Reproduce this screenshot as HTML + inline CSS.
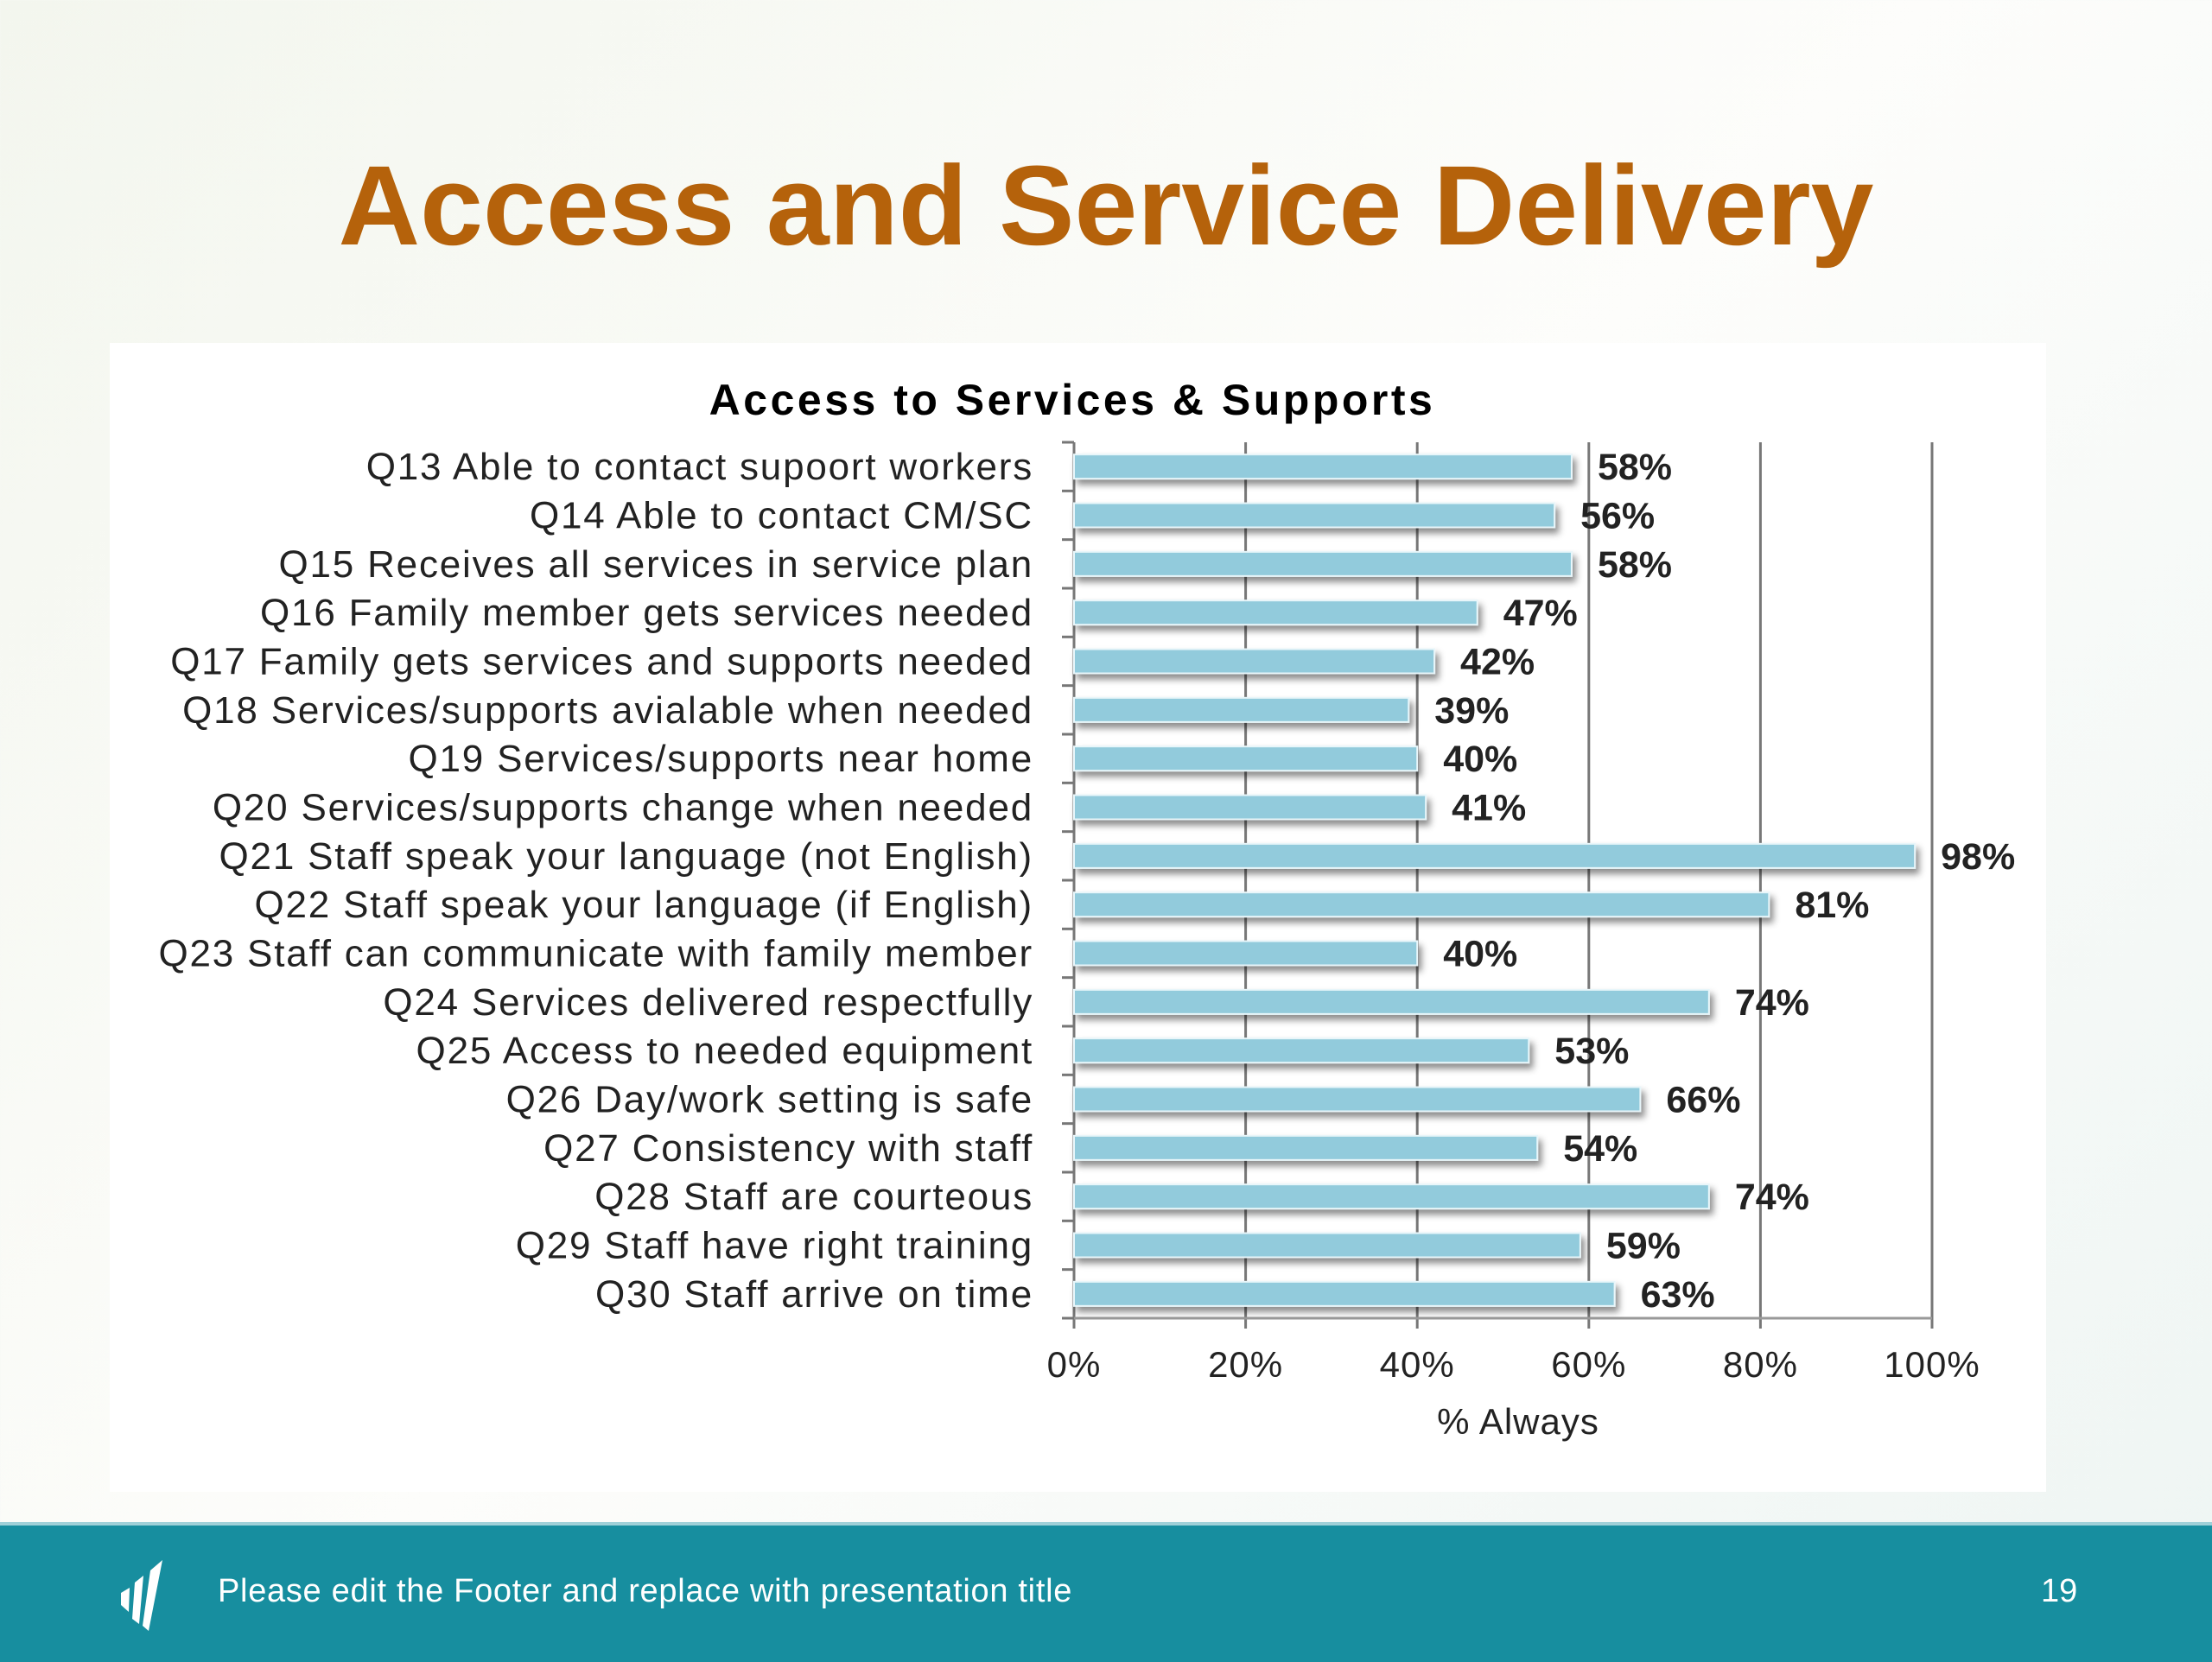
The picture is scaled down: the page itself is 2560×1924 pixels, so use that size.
<!DOCTYPE html>
<html><head><meta charset="utf-8"><style>
body{margin:0;width:2560px;height:1920px;overflow:hidden;background:linear-gradient(135deg,#f3f6ee 0%,#fdfdfb 50%,#eef5f3 100%);font-family:"Liberation Sans",sans-serif;position:relative}
#title{position:absolute;left:0;width:2560px;top:162px;text-align:center;font-size:131px;font-weight:bold;color:#B5620B;font-family:"Liberation Sans",sans-serif;letter-spacing:0px}
#panel{position:absolute;left:127px;top:397px;width:2241px;height:1330px;background:#fff}
#footer{position:absolute;left:0;top:1762px;width:2560px;height:158px;background:#178E9F;border-top:4px solid #9fd0d8}
</style></head><body>
<div id="title">Access and Service Delivery</div>
<div id="panel"></div>
<svg id="chart" width="2560" height="1920" style="position:absolute;left:0;top:0">
<defs><filter id="sh" x="-5%" y="-50%" width="110%" height="250%"><feDropShadow dx="4" dy="6" stdDeviation="4" flood-color="#000" flood-opacity="0.45"/></filter></defs>
</svg>
<div id="footer">
<svg width="80" height="90" viewBox="0 0 60 90" style="position:absolute;left:124px;top:34px"><path d="M6 44 L16 38 L15 66 L6 58Z M22 32 L32 24 L27 80 L19 74Z M40 18 L54 6 L38 88 L31 82Z" fill="#fff"/></svg>
<div style="position:absolute;left:252px;top:55px;font-size:38px;color:#fff;letter-spacing:0.7px">Please edit the Footer and replace with presentation title</div>
<div style="position:absolute;left:2362px;top:55px;font-size:38px;color:#fff">19</div>
</div>
<script>
const categories=["Q13 Able to contact supoort workers","Q14 Able to contact CM/SC","Q15 Receives all services in service plan","Q16 Family member gets services needed","Q17 Family gets services and supports needed","Q18 Services/supports avialable when needed","Q19 Services/supports near home","Q20 Services/supports change when  needed","Q21 Staff speak your language (not English)","Q22 Staff speak your language (if English)","Q23 Staff can communicate with  family member","Q24 Services delivered respectfully","Q25 Access to needed equipment","Q26 Day/work setting is safe","Q27 Consistency with  staff","Q28 Staff are courteous","Q29 Staff have right training","Q30 Staff arrive on time"];
const values=[58,56,58,47,42,39,40,41,98,81,40,74,53,66,54,74,59,63];
const tickValues=[0,20,40,60,80,100];
const tickLabels=["0%","20%","40%","60%","80%","100%"];
const svg=document.getElementById('chart');const NS='http://www.w3.org/2000/svg';
const x0=1243,x1=2236,top0=512,bot=1526;
const xs=v=>x0+(x1-x0)*v/100;
const step=(bot-top0)/categories.length;
const yc=i=>top0+step*(i+0.5);
function mk(t,a,txt){const e=document.createElementNS(NS,t);for(const k in a)e.setAttribute(k,a[k]);if(txt!=null)e.textContent=txt;svg.appendChild(e);return e;}
let e=mk('text',{x:1241,y:480,'font-size':50,'font-weight':'bold','text-anchor':'middle',fill:'#000','letter-spacing':3.5,'xml:space':'preserve'},'Access to  Services & Supports');


tickValues.forEach((v,i)=>{
 if(v>0){const g=mk('line',{x1:xs(v),x2:xs(v),y1:top0,y2:bot+12,stroke:'#777','stroke-width':3});
 
 }
 const t=mk('text',{x:xs(v),y:bot+68,'font-size':42,'text-anchor':'middle',fill:'#222','letter-spacing':1}, tickLabels[i]);
 
 
});
e=mk('line',{x1:x0,x2:x0,y1:top0,y2:bot+12,stroke:'#777','stroke-width':3});


e=mk('line',{x1:x0-14,x2:x1,y1:bot,y2:bot,stroke:'#999','stroke-width':3});


for(let i=0;i<=categories.length;i++){const l=mk('line',{x1:x0-14,x2:x0,y1:top0+step*i,y2:top0+step*i,stroke:'#777','stroke-width':3});
 
 }
categories.forEach((c,i)=>{
 const t=mk('text',{x:1196,y:yc(i)+15,'font-size':44,'text-anchor':'end',fill:'#222','letter-spacing':1.8,'xml:space':'preserve'},c);
 
 
 const b=mk('rect',{x:x0,y:yc(i)-14,width:xs(values[i])-x0,height:28,fill:'#92CBDC',stroke:'#e8f6fa','stroke-width':2,filter:'url(#sh)'});
 
 
 const v=mk('text',{x:xs(values[i])+30,y:yc(i)+15,'font-size':43,'font-weight':'bold',fill:'#222'},values[i]+'%');
 
 
});
e=mk('text',{x:1757,y:1660,'font-size':42,'text-anchor':'middle',fill:'#222','letter-spacing':1},'% Always');


</script>
</body></html>
